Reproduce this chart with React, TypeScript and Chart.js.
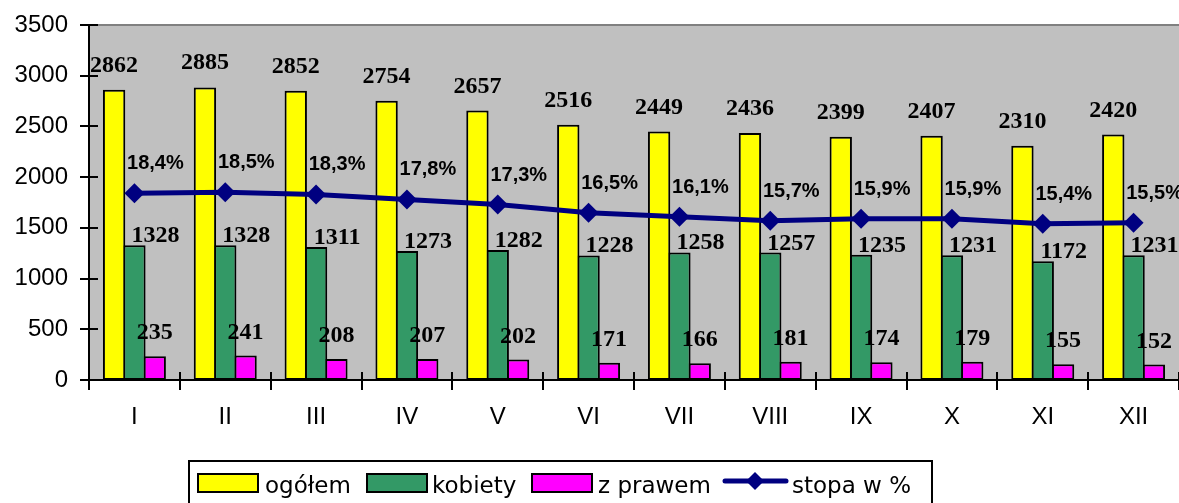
import React, { useEffect, useRef } from 'react';
import { Chart, registerables } from 'chart.js';

Chart.register(...registerables);

const months = ['I', 'II', 'III', 'IV', 'V', 'VI', 'VII', 'VIII', 'IX', 'X', 'XI', 'XII'];
const ogolem = [2862, 2885, 2852, 2754, 2657, 2516, 2449, 2436, 2399, 2407, 2310, 2420];
const kobiety = [1328, 1328, 1311, 1273, 1282, 1228, 1258, 1257, 1235, 1231, 1172, 1231];
const zPrawem = [235, 241, 208, 207, 202, 171, 166, 181, 174, 179, 155, 152];
const stopa = [18.4, 18.5, 18.3, 17.8, 17.3, 16.5, 16.1, 15.7, 15.9, 15.9, 15.4, 15.5];
const seriesNames = ['ogółem', 'kobiety', 'z prawem', 'stopa w %'];
const yMin = 0;
const yMax = 3500;
const yStep = 500;

const W = 1179;
const H = 503;
const SANS = '"Liberation Sans", Arial, sans-serif';
const SERIF = '"Liberation Serif", "Times New Roman", serif';
const NAVY = '#000080';

const decor = {
  id: 'decor',
  beforeDatasetsDraw(chart: any) {
    const { ctx, chartArea: a } = chart;
    ctx.save();
    ctx.fillStyle = '#C0C0C0';
    ctx.fillRect(a.left, a.top, a.right - a.left, a.bottom - a.top);
    ctx.strokeStyle = '#808080';
    ctx.lineWidth = 2;
    ctx.beginPath();
    ctx.moveTo(a.left, a.top);
    ctx.lineTo(a.right, a.top);
    ctx.stroke();
    ctx.restore();
  },
  afterDatasetsDraw(chart: any) {
    const { ctx, chartArea: a, scales } = chart;
    const xs = scales.x;
    const ys = scales.y;
    ctx.save();
    ctx.strokeStyle = '#000';
    ctx.lineWidth = 2;
    ctx.beginPath();
    ctx.moveTo(a.left, a.top);
    ctx.lineTo(a.left, a.bottom);
    ctx.moveTo(a.left - 1, a.bottom);
    ctx.lineTo(a.right, a.bottom);
    ys.ticks.forEach((t: any) => {
      const py = Math.round(ys.getPixelForValue(t.value));
      ctx.moveTo(a.left - 9, py);
      ctx.lineTo(a.left + 9, py);
    });
    for (let i = 0; i <= months.length; i++) {
      const px = Math.round(xs.getPixelForValue(i - 0.5));
      ctx.moveTo(px, a.bottom - 8);
      ctx.lineTo(px, a.bottom + 10);
    }
    ctx.stroke();

    // data labels
    ctx.fillStyle = '#000';
    ctx.textAlign = 'center';
    ctx.textBaseline = 'alphabetic';
    const m0 = chart.getDatasetMeta(0);
    const m1 = chart.getDatasetMeta(1);
    const m2 = chart.getDatasetMeta(2);
    const m3 = chart.getDatasetMeta(3);
    ctx.font = `bold 24px ${SERIF}`;
    m0.data.forEach((el: any, i: number) => {
      ctx.fillText(String(ogolem[i]), el.x, el.y - 18);
    });
    m1.data.forEach((el: any, i: number) => {
      const cx = xs.getPixelForValue(i);
      ctx.fillText(String(kobiety[i]), cx + 21, el.y - 3);
    });
    m2.data.forEach((el: any, i: number) => {
      ctx.fillText(String(zPrawem[i]), el.x, el.y - 17);
    });
    ctx.font = `bold 20px ${SANS}`;
    m3.data.forEach((el: any, i: number) => {
      const txt = stopa[i].toFixed(1).replace('.', ',') + '%';
      ctx.fillText(txt, el.x + 21, el.y - 24);
    });
    ctx.restore();
  },
  afterDraw(chart: any) {
    const { ctx } = chart;
    ctx.save();
    ctx.strokeStyle = '#000';
    ctx.lineWidth = 2;
    ctx.strokeRect(189, 461, 932 - 189, 60);
    const sw = [198, 367, 532, 723];
    const tx = [265, 432, 598, 792];
    ctx.font = '23px "DejaVu Sans", sans-serif';
    ctx.textAlign = 'left';
    ctx.textBaseline = 'alphabetic';
    chart.data.datasets.forEach((ds: any, i: number) => {
      if (ds.type === 'line') {
        ctx.strokeStyle = NAVY;
        ctx.lineWidth = 5;
        ctx.lineCap = 'round';
        ctx.beginPath();
        ctx.moveTo(sw[i] + 2, 481);
        ctx.lineTo(sw[i] + 63, 481);
        ctx.stroke();
        ctx.fillStyle = NAVY;
        const cx = sw[i] + 32;
        ctx.beginPath();
        ctx.moveTo(cx - 9, 481);
        ctx.lineTo(cx, 472);
        ctx.lineTo(cx + 9, 481);
        ctx.lineTo(cx, 490);
        ctx.closePath();
        ctx.fill();
      } else {
        ctx.fillStyle = ds.backgroundColor;
        ctx.fillRect(sw[i], 474, 60, 18);
        ctx.strokeStyle = '#000';
        ctx.lineWidth = 2;
        ctx.strokeRect(sw[i], 474, 60, 18);
      }
      ctx.fillStyle = '#000';
      ctx.fillText(ds.label, tx[i], 493);
    });
    ctx.restore();
  },
};

export default function App() {
  const ref = useRef<HTMLCanvasElement>(null);
  useEffect(() => {
    if (!ref.current) return;
    const chart = new Chart(ref.current, {
      type: 'bar',
      data: {
        labels: months,
        datasets: [
          {
            type: 'bar',
            label: seriesNames[0],
            data: ogolem,
            backgroundColor: '#FFFF00',
            borderColor: '#000',
            borderWidth: 2,
            borderSkipped: false,
            yAxisID: 'y',
            order: 1,
          },
          {
            type: 'bar',
            label: seriesNames[1],
            data: kobiety,
            backgroundColor: '#339966',
            borderColor: '#000',
            borderWidth: 2,
            borderSkipped: false,
            yAxisID: 'y',
            order: 1,
          },
          {
            type: 'bar',
            label: seriesNames[2],
            data: zPrawem,
            backgroundColor: '#FF00FF',
            borderColor: '#000',
            borderWidth: 2,
            borderSkipped: false,
            yAxisID: 'y',
            order: 1,
          },
          {
            type: 'line',
            label: seriesNames[3],
            data: stopa,
            borderColor: NAVY,
            backgroundColor: NAVY,
            borderWidth: 5,
            pointStyle: 'rectRot',
            pointRadius: 10,
            pointBackgroundColor: NAVY,
            pointBorderColor: NAVY,
            pointBorderWidth: 0,
            tension: 0,
            clip: false,
            yAxisID: 'y2',
            order: 0,
          },
        ] as any,
      },
      options: {
        responsive: false,
        animation: false,
        devicePixelRatio: 1,
        layout: { autoPadding: false, padding: { top: 25, left: 0, right: 0, bottom: 0 } },
        datasets: { bar: { categoryPercentage: 0.671, barPercentage: 1.1 } } as any,
        plugins: {
          legend: { display: false },
          tooltip: { enabled: false },
        },
        scales: {
          x: {
            type: 'category',
            offset: true,
            grid: { display: false, drawTicks: false, tickLength: 0 },
            border: { display: false },
            ticks: {
              color: '#000',
              font: { family: SANS, size: 24 },
              padding: 23,
              maxRotation: 0,
              autoSkip: false,
            },
            afterFit: (s: any) => {
              s.height = 123;
              s.paddingLeft = 0;
              s.paddingRight = 0;
            },
          },
          y: {
            min: yMin,
            max: yMax,
            ticks: {
              stepSize: yStep,
              color: '#000',
              font: { family: SANS, size: 24 },
              padding: 21,
              callback: (v: any) => String(v),
            },
            grid: { display: false, drawTicks: false, tickLength: 0 },
            border: { display: false },
            afterFit: (s: any) => {
              s.width = 89;
              s.paddingTop = 0;
              s.paddingBottom = 0;
            },
          },
          y2: {
            display: false,
            min: 0,
            max: 35,
            position: 'right',
          },
        },
      } as any,
      plugins: [decor],
    });
    return () => chart.destroy();
  }, []);
  return (
    <div style={{ position: 'fixed', left: 0, top: 0, width: W, height: H, background: '#fff' }}>
      <canvas ref={ref} width={W} height={H} style={{ display: 'block', width: W, height: H }} />
    </div>
  );
}
